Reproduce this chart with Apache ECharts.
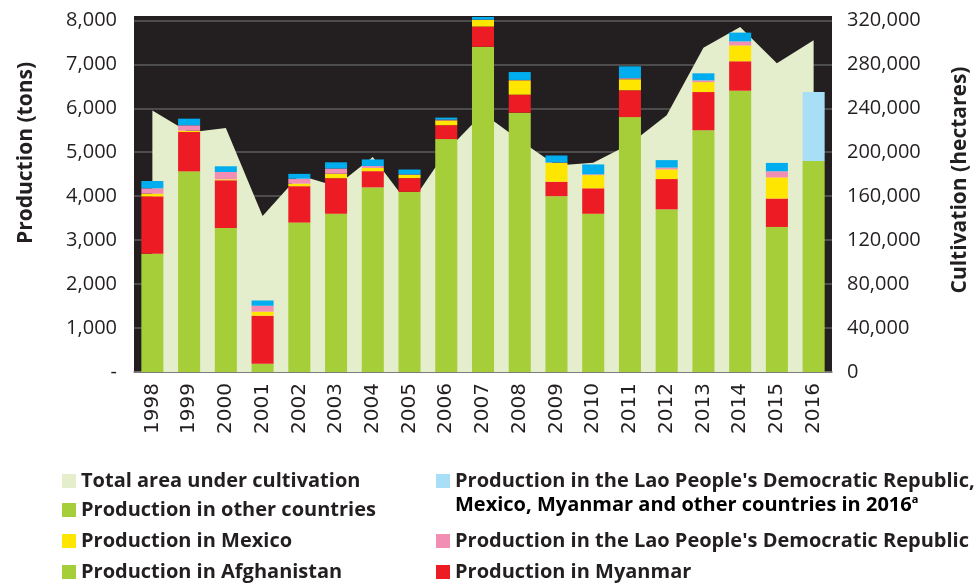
<!DOCTYPE html>
<html>
<head>
<meta charset="utf-8">
<script src="https://cdn.jsdelivr.net/npm/echarts@6/dist/echarts.min.js"></script>
<style>
  html, body { margin: 0; padding: 0; background: #fff; }
  #main { width: 980px; height: 584px; }
</style>
</head>
<body>
<div id="main"></div>
<script>
// years on the category axis
var years = ['1998', '1999', '2000', '2001', '2002', '2003', '2004', '2005', '2006', '2007',
  '2008', '2009', '2010', '2011', '2012', '2013', '2014', '2015', '2016'];

// production, tons
var afghanistan = [2693, 4565, 3276, 185, 3400, 3600, 4200, 4100, 5300, 7400, 5900, 4000, 3600, 5800, 3700, 5500, 6400, 3300, 4800];
var myanmar = [1303, 895, 1087, 1097, 828, 810, 370, 312, 315, 460, 410, 330, 580, 610, 690, 870, 670, 647, null];
var mexico = [60, 30, 21, 91, 58, 101, 73, 71, 108, 149, 325, 425, 300, 250, 220, 225, 360, 480, null];
var lao = [124, 124, 167, 134, 112, 120, 43, 14, 20, 9, 10, 11, 18, 25, 41, 41, 92, 140, null];
var others = [166, 150, 130, 120, 110, 140, 150, 110, 45, 60, 180, 160, 225, 270, 170, 160, 200, 190, null];
var combined2016 = [null, null, null, null, null, null, null, null, null, null, null, null, null, null, null, null, null, null, 1570];

// cultivation, hectares
var cultivation = [238000, 218000, 222000, 142000, 179000, 169000, 195700, 151500, 201000, 235500,
  211000, 188000, 190500, 207500, 233600, 295000, 314000, 281000, 302000];

var chart = echarts.init(document.getElementById('main'));

var txt = '#231f20';
var tickFont = { fontFamily: 'Open Sans', fontSize: 20, color: txt };

function barSeries(name, data, color) {
  return {
    name: name,
    type: 'bar',
    stack: 'prod',
    barWidth: '60%',
    data: data,
    itemStyle: { color: color },
    z: 2
  };
}

// one legend per entry so each row sits where it should
function legendItem(item, left, top) {
  return {
    orient: 'vertical', left: left, top: top, padding: 0,
    itemWidth: 14, itemHeight: 14, icon: 'rect',
    textStyle: { fontFamily: 'Open Sans', fontWeight: 'bold', fontSize: 20, color: txt, lineHeight: 20 },
    data: [item]
  };
}

var option = {
  animation: false,
  grid: {
    left: 134, right: 148, top: 16, bottom: 212,
    show: true, backgroundColor: '#231f20', borderWidth: 0
  },
  xAxis: {
    type: 'category',
    data: years,
    axisLine: { lineStyle: { color: '#7a7a7a', width: 1.5 } },
    axisTick: { show: false },
    axisLabel: { rotate: 90, interval: 0, margin: 11, fontFamily: 'DejaVu Sans', fontSize: 20, color: txt }
  },
  yAxis: [
    {
      type: 'value', min: 0, max: 8100, interval: 1000,
      axisLine: { show: false }, axisTick: { show: false },
      splitLine: { show: true, showMaxLine: false, lineStyle: { color: '#5d5d5d', width: 1.5 } },
      axisLabel: Object.assign({
        margin: 17, showMaxLabel: false,
        formatter: function (v) { return v === 0 ? '-' : v.toLocaleString('en-US'); }
      }, tickFont)
    },
    {
      type: 'value', min: 0, max: 324000, interval: 40000,
      axisLine: { show: false }, axisTick: { show: false },
      splitLine: { show: false },
      axisLabel: Object.assign({
        margin: 15, showMaxLabel: false,
        formatter: function (v) { return v.toLocaleString('en-US'); }
      }, tickFont)
    }
  ],
  legend: [
    legendItem('Total area under cultivation', 62, 471),
    legendItem({ name: 'Production in other countries', itemStyle: { color: '#a6ce39' } }, 62, 500),
    legendItem('Production in Mexico', 62, 531),
    legendItem('Production in Afghanistan', 62, 562),
    legendItem("Production in the Lao People's Democratic Republic,", 436, 471),
    legendItem("Production in the Lao People's Democratic Republic", 436, 531),
    legendItem('Production in Myanmar', 436, 562)
  ],
  graphic: [
    {
      type: 'text', x: 26, y: 153, rotation: Math.PI / 2,
      style: {
        text: 'Production (tons)', fill: txt, align: 'center', verticalAlign: 'middle',
        font: 'bold 21px "Open Sans"'
      }
    },
    {
      type: 'text', x: 960, y: 180, rotation: Math.PI / 2,
      style: {
        text: 'Cultivation (hectares)', fill: txt, align: 'center', verticalAlign: 'middle',
        font: 'bold 21px "Open Sans"'
      }
    },
    {
      type: 'text', x: 455, y: 505,
      style: {
        text: '{n|Mexico, Myanmar and other countries in 2016}{s|a}',
        verticalAlign: 'middle',
        rich: {
          n: { fontFamily: 'Open Sans', fontWeight: 'bold', fontSize: 20, color: txt },
          s: { fontFamily: 'Open Sans', fontWeight: 'bold', fontSize: 11, color: txt, padding: [0, 0, 10, 0] }
        }
      }
    }
  ],
  series: [
    {
      name: 'Total area under cultivation',
      type: 'line',
      yAxisIndex: 1,
      data: cultivation,
      symbol: 'none',
      lineStyle: { width: 0 },
      itemStyle: { color: '#e4edcc' },
      areaStyle: { color: '#e4edcc', opacity: 1 },
      z: 1
    },
    barSeries('Production in Afghanistan', afghanistan, '#a6ce39'),
    barSeries('Production in Myanmar', myanmar, '#ed1c24'),
    barSeries('Production in Mexico', mexico, '#ffe600'),
    barSeries("Production in the Lao People's Democratic Republic", lao, '#f28db3'),
    barSeries('Production in other countries', others, '#00aeef'),
    barSeries("Production in the Lao People's Democratic Republic,", combined2016, '#a9def7')
  ]
};

chart.setOption(option);
</script>
</body>
</html>
